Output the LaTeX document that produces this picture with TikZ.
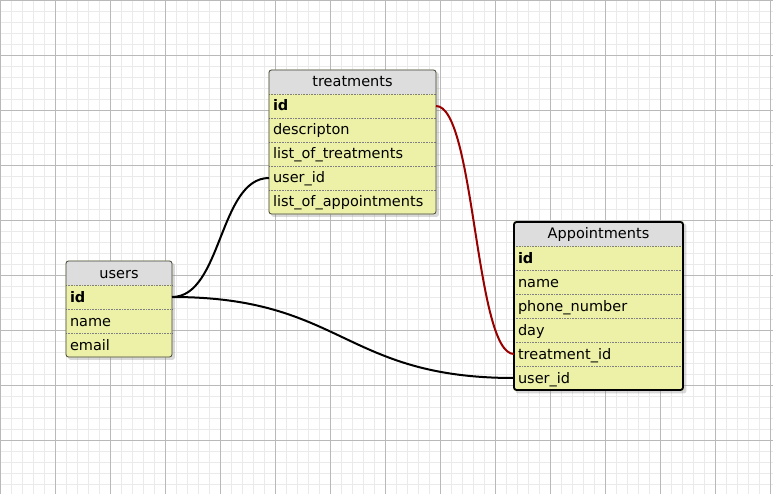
\documentclass[tikz,border=0pt]{standalone}
\usepackage{fontspec}
\setmainfont{DejaVu Sans}
\usetikzlibrary{
	positioning,
	fit,
	backgrounds,
	shadows
}
\definecolor{RowYellow}{RGB}{237,241,167}
\definecolor{HeadGrey}{RGB}{221,221,221}
\definecolor{GridMinor}{RGB}{234,234,234}
\definecolor{GridMajor}{RGB}{185,185,185}
\definecolor{DarkRed}{RGB}{153,0,0}

\begin{document}
\begin{tikzpicture}[x=1pt, y=-1pt, node distance=0pt,
		font=\fontsize{14.5}{16}\selectfont,
		tablehead/.style={fill=HeadGrey, rounded corners=2.5pt, align=center, minimum height=24pt,
			inner xsep=4pt, inner ysep=0pt, outer sep=0pt, text height=12pt, text depth=2pt},
		fieldrow/.style={align=left, minimum height=24pt, inner xsep=4pt, inner ysep=0pt,
			outer sep=0pt, text height=12pt, text depth=2pt},
		keyrow/.style={fieldrow, font=\fontsize{14.5}{16}\selectfont\bfseries},
		sepline/.style={densely dotted, gray, line width=0.6pt},
		tableframe/.style={draw=black!75, line width=0.8pt, rounded corners=2.5pt, inner sep=0pt},
		relation/.style={line width=2pt}]
		\useasboundingbox (0,0) rectangle (773,494);
		
		% treatments
		\node[tablehead, text width=159pt] (t-head) at (352.5,82) {treatments};
		\node[keyrow, text width=159pt, below=of t-head] (t-id) {id};
		\node[fieldrow, text width=159pt, below=of t-id] (t-desc) {descripton};
		\node[fieldrow, text width=159pt, below=of t-desc] (t-list) {list\_of\_treatments};
		\node[fieldrow, text width=159pt, below=of t-list] (t-uid) {user\_id};
		\node[fieldrow, text width=159pt, below=of t-uid] (t-apps) {list\_of\_appointments};
		\foreach \n in {t-head,t-id,t-desc,t-list,t-uid}
			\draw[sepline] (\n.south west) -- (\n.south east);
		\node[tableframe, fit=(t-head)(t-apps)] (t-box) {};
		
		% Appointments
		\node[tablehead, text width=161pt] (a-head) at (598.5,234) {Appointments};
		\node[keyrow, text width=161pt, below=of a-head] (a-id) {id};
		\node[fieldrow, text width=161pt, below=of a-id] (a-name) {name};
		\node[fieldrow, text width=161pt, below=of a-name] (a-phone) {phone\_number};
		\node[fieldrow, text width=161pt, below=of a-phone] (a-day) {day};
		\node[fieldrow, text width=161pt, below=of a-day] (a-tid) {treatment\_id};
		\node[fieldrow, text width=161pt, below=of a-tid] (a-uid) {user\_id};
		\foreach \n in {a-head,a-id,a-name,a-phone,a-day,a-tid}
			\draw[sepline] (\n.south west) -- (\n.south east);
		\node[tableframe, draw=black, line width=1.8pt, fit=(a-head)(a-uid)] (a-box) {};
		
		% users
		\node[tablehead, text width=98pt] (u-head) at (119,273) {users};
		\node[keyrow, text width=98pt, below=of u-head] (u-id) {id};
		\node[fieldrow, text width=98pt, below=of u-id] (u-name) {name};
		\node[fieldrow, text width=98pt, below=of u-name] (u-email) {email};
		\foreach \n in {u-head,u-id,u-name}
			\draw[sepline] (\n.south west) -- (\n.south east);
		\node[tableframe, fit=(u-head)(u-email)] (u-box) {};
		
		\begin{scope}[on background layer]
			\fill[white] (0,0) rectangle (773,494);
			\foreach \gx in {0,11,...,770}
				\draw[GridMinor, line width=0.9pt] (\gx,0) -- (\gx,494);
			\foreach \gy in {0,11,...,490}
				\draw[GridMinor, line width=0.9pt] (0,\gy) -- (773,\gy);
			\foreach \gx in {0,55,...,770}
				\draw[GridMajor, line width=0.9pt] (\gx,0) -- (\gx,494);
			\foreach \gy in {0,55,...,490}
				\draw[GridMajor, line width=0.9pt] (0,\gy) -- (773,\gy);
			\foreach \b in {t-box,a-box,u-box}
				\fill[RowYellow, rounded corners=2.5pt,
					drop shadow={shadow xshift=2.5pt, shadow yshift=-2.5pt, opacity=0.3}]
					(\b.north west) rectangle (\b.south east);
		\end{scope}
		
		% relations
		\draw[relation] (u-id.east) .. controls +(50,0) and +(-50,0) .. (t-uid.west);
		\draw[relation] (u-id.east) .. controls +(171,0) and +(-171,0) .. (a-uid.west);
		\draw[relation, DarkRed] (t-id.east) .. controls +(39,0) and +(-39,0) .. (a-tid.west);
	\end{tikzpicture}
\end{document}
